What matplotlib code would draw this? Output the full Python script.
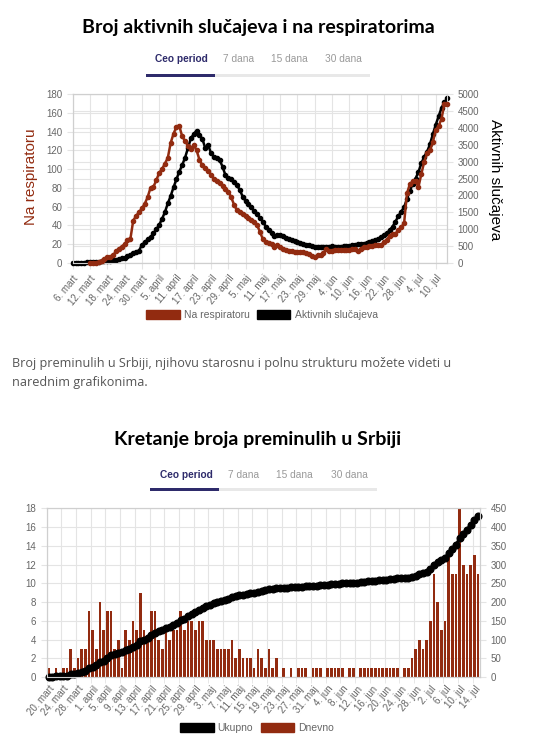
import numpy as np
import matplotlib.pyplot as plt
from matplotlib.patches import Patch, Rectangle

W, H = 533, 756
RED = "#922b10"
NAVY = "#2e2b6b"
GRID = "#e4e4e4"
TICK = "#666666"

# chart 1 - 6. mart .. 14. jul, one value per day
days1_labels = ["6. mart", "12. mart", "18. mart", "24. mart", "30. mart", "5. april",
                "11. april", "17. april", "23. april", "29. april", "5. maj", "11. maj",
                "17. maj", "23. maj", "29. maj", "4. jun", "10. jun", "16. jun",
                "22. jun", "28. jun", "4. jul", "10. jul"]

active = [1, 1, 1, 1, 5, 12, 18, 25, 30, 35, 40, 45, 50, 65, 80, 95, 110, 130, 150, 190,
          230, 280, 320, 350, 530, 600, 690, 760, 870, 990, 1120, 1300, 1500, 1760, 1980,
          2240, 2480, 2700, 2900, 3120, 3400, 3690, 3820, 3920, 3790, 3680, 3400, 3500, 3250,
          3150, 3100, 3050, 2850, 2600, 2520, 2480, 2400, 2300, 2160, 1960, 1830, 1730, 1640,
          1530, 1440, 1330, 1220, 1070, 970, 880, 800, 820, 810, 780, 740, 690, 660, 630, 610,
          580, 560, 540, 520, 500, 480, 470, 470, 460, 470, 480, 490, 480, 470, 480, 490, 500,
          510, 520, 540, 550, 560, 570, 590, 610, 630, 660, 700, 760, 820, 880, 960, 1070,
          1220, 1380, 1520, 1640, 1900, 2120, 2350, 2500, 2700, 2950, 3150, 3300, 3520, 3820,
          4100, 4350, 4600, 4760, 4880]

resp = [None, None, None, None, None, None,
        0, 0, 0, 1, 2, 4, 6, 6, 8, 12, 15, 17, 20, 24, 25, 45, 50, 54, 58, 63, 70, 80, 81,
        88, 96, 100, 106, 112, 128, 138, 145, 146, 135, 130, 125, 122, 126, 120, 110, 104,
        101, 98, 94, 90, 87, 85, 82, 79, 76, 70, 62, 56, 54, 52, 50, 48, 46, 44, 40, 33, 25,
        22, 21, 20, 17, 19, 17, 15, 14, 12, 12, 11, 11, 11, 11, 10, 9, 7, 6, 8, 8, 10, 15,
        12, 13, 14, 14, 14, 14, 14, 14, 15, 15, 12, 15, 17, 17, 18, 18, 19, 19, 19, 22, 24,
        29, 31, 31, 35, 38, 42, 74, 84, 87, 87, 81, 95, 108, 117, 120, 129, 142, 146, 154,
        170, 170]

# chart 2 - 20. mart .. 15. jul
days2_labels = ["20. mart", "24. mart", "28. mart", "1. april", "5. april", "9. april",
                "13. april", "17. april", "21. april", "25. april", "29. april", "3. maj",
                "7. maj", "11. maj", "15. maj", "19. maj", "23. maj", "27. maj", "31. maj",
                "4. jun", "8. jun", "12. jun", "16. jun", "20. jun", "24. jun", "28. jun",
                "2. jul", "6. jul", "10. jul", "14. jul"]

daily = [1, 0, 1, 0, 1, 1, 3, 1, 2, 3, 3, 7, 5, 3, 8, 5, 7, 7, 3, 4, 1, 5, 4, 6, 5, 9,
         5, 4, 7, 7, 4, 3, 5, 4, 5, 5, 7, 5, 6, 6, 5, 6, 6, 4, 4, 4, 3, 3, 3, 3, 4, 2, 3,
         2, 2, 2, 1, 3, 2, 1, 3, 1, 2, 0, 1, 0, 1, 0, 1, 1, 1, 0, 1, 1, 1, 0, 1, 1, 1, 1,
         1, 0, 1, 1, 0, 1, 1, 1, 1, 1, 1, 1, 1, 1, 1, 1, 0, 1, 1, 2, 3, 4, 3, 4, 6, 11, 8,
         5, 6, 13, 11, 11, 18, 12, 11, 12, 13, 11]

total = [1, 1, 2, 2, 3, 4, 7, 8, 10, 13, 16, 23, 28, 31, 39, 44, 51, 58, 61, 65, 66, 71,
         75, 81, 86, 95, 100, 104, 111, 118, 122, 125, 130, 134, 139, 144, 151, 156, 162,
         168, 173, 179, 185, 189, 193, 197, 200, 203, 206, 209, 213, 215, 218, 220, 222,
         224, 225, 228, 230, 231, 234, 235, 237, 237, 238, 238, 239, 239, 240, 241, 242,
         242, 243, 244, 245, 245, 246, 247, 248, 249, 250, 250, 251, 252, 252, 253, 254,
         255, 256, 257, 258, 259, 260, 261, 262, 263, 263, 264, 265, 267, 270, 274, 277,
         281, 287, 298, 306, 311, 317, 330, 341, 352, 370, 382, 393, 405, 418, 429]


def fx(x):
    return x / W


def fy(y):
    return 1 - y / H


def header(fig, title, title_y, tabs_y, bar_y, bar_x0, bar_x1, sel_x1, tab_xs):
    fig.text(fx(258), fy(title_y), title, ha="center", va="center",
             fontsize=14, fontweight="bold", family="Lato", color="black")
    names = ["Ceo period", "7 dana", "15 dana", "30 dana"]
    for name, x in zip(names, tab_xs):
        sel = name == "Ceo period"
        fig.text(fx(x), fy(tabs_y), name, ha="center", va="center", fontsize=7.3,
                 family="Liberation Sans", color=NAVY if sel else "#999999",
                 fontweight="bold" if sel else "normal")
    fig.add_artist(Rectangle((fx(bar_x0), fy(bar_y + 1.5)), (bar_x1 - bar_x0) / W, 3 / H,
                             transform=fig.transFigure, color="#e8e8e8", lw=0))
    fig.add_artist(Rectangle((fx(bar_x0), fy(bar_y + 1.5)), (sel_x1 - bar_x0) / W, 3 / H,
                             transform=fig.transFigure, color=NAVY, lw=0))


def style_axis(ax):
    for s in ax.spines.values():
        s.set_color("#cfcfcf")
        s.set_linewidth(0.8)
    ax.tick_params(labelsize=7, labelcolor=TICK, color=GRID, length=4, width=0.8)
    for lab in ax.get_yticklabels() + ax.get_xticklabels():
        lab.set_family("Liberation Sans")


plt.rcParams["font.family"] = ["Liberation Sans", "DejaVu Sans"]
fig = plt.figure(figsize=(W / 100, H / 100), dpi=100)

# ---------------- chart 1 ----------------
header(fig, "Broj aktivnih slučajeva i na respiratorima", 27, 59, 75, 146, 370, 215,
       [181, 239, 289.5, 343])

ax1 = fig.add_axes([fx(72.7), fy(262.7), (447.3 - 72.7) / W, (262.7 - 94.3) / H])
x1 = np.arange(len(active))
ax1.set_xlim(0, len(active) - 1)
ax1.set_ylim(0, 180)
ax1.set_yticks(range(0, 181, 20))
ax1.set_xticks(range(0, len(active), 6))
ax1.set_xticklabels(days1_labels, rotation=50, ha="right", rotation_mode="anchor")
ax1.grid(True, color=GRID, lw=0.8)
style_axis(ax1)

ax1r = ax1.twinx()
ax1r.set_ylim(0, 5000)
ax1r.set_yticks(range(0, 5001, 500))
ax1r.grid(axis="y", color=GRID, lw=0.8)
style_axis(ax1r)
ax1r.plot(x1, active, color="black", lw=1.8, marker="o", ms=3, clip_on=False)

ax1t = ax1.twinx()
ax1t.set_ylim(0, 180)
ax1t.axis("off")
resp_arr = np.array([np.nan if v is None else v for v in resp], dtype=float)
ax1t.plot(x1, resp_arr, color=RED, lw=1.8, marker="o", ms=3, clip_on=False)

fig.text(fx(31), fy(177), "Na respiratoru", rotation=90, ha="center", va="center",
         fontsize=11, color=RED)
fig.text(fx(495), fy(180), "Aktivnih slučajeva", rotation=270, ha="center", va="center",
         fontsize=11, color="black")

fig.legend(handles=[Patch(fc=RED, ec=RED), Patch(fc="black", ec="black")],
           labels=["Na respiratoru", "Aktivnih slučajeva"], loc="center",
           bbox_to_anchor=(fx(262), fy(315)), ncol=2, frameon=False, fontsize=7.5,
           handlelength=3.2, handleheight=1.0, columnspacing=0.7, handletextpad=0.4,
           labelcolor=TICK)

# paragraph
fig.text(fx(12), fy(363), "Broj preminulih u Srbiji, njihovu starosnu i polnu strukturu možete videti u",
         ha="left", va="center", fontsize=9.1, family="Open Sans", color="#555555")
fig.text(fx(12), fy(382), "narednim grafikonima.", ha="left", va="center", fontsize=9.1,
         family="Open Sans", color="#555555")

# ---------------- chart 2 ----------------
header(fig, "Kretanje broja preminulih u Srbiji", 440, 475, 489, 150, 377, 219,
       [186, 244, 294.5, 349])

ax2 = fig.add_axes([fx(46.7), fy(677), (480 - 46.7) / W, (677 - 508.3) / H])
x2 = np.arange(len(daily))
ax2.bar(x2, daily, width=0.72, color=RED, zorder=2)
ax2.set_xlim(-0.5, len(daily) - 0.5)
ax2.set_ylim(0, 18)
ax2.set_yticks(range(0, 19, 2))
ax2.set_xticks(range(0, len(daily), 4))
ax2.set_xticklabels(days2_labels, rotation=50, ha="right", rotation_mode="anchor")
ax2.set_xticks(np.arange(-0.5, len(daily), 4), minor=True)
ax2.grid(which="minor", axis="x", color=GRID, lw=0.8)
ax2.grid(which="major", axis="y", color=GRID, lw=0.8)
ax2.set_axisbelow(True)
style_axis(ax2)
ax2.tick_params(axis="x", which="major", length=0, pad=5)
ax2.tick_params(axis="x", which="minor", length=4, color=GRID)

ax2r = ax2.twinx()
ax2r.set_ylim(0, 450)
ax2r.set_yticks(range(0, 451, 50))
style_axis(ax2r)
ax2r.plot(x2, total, color="black", lw=2.4, marker="o", ms=4.8, clip_on=False)

fig.legend(handles=[Patch(fc="black", ec="black"), Patch(fc=RED, ec=RED)],
           labels=["Ukupno", "Dnevno"], loc="center",
           bbox_to_anchor=(fx(257), fy(728)), ncol=2, frameon=False, fontsize=7.5,
           handlelength=3.2, handleheight=1.0, columnspacing=0.7, handletextpad=0.4,
           labelcolor=TICK)

fig.savefig("out.png", dpi=100)
